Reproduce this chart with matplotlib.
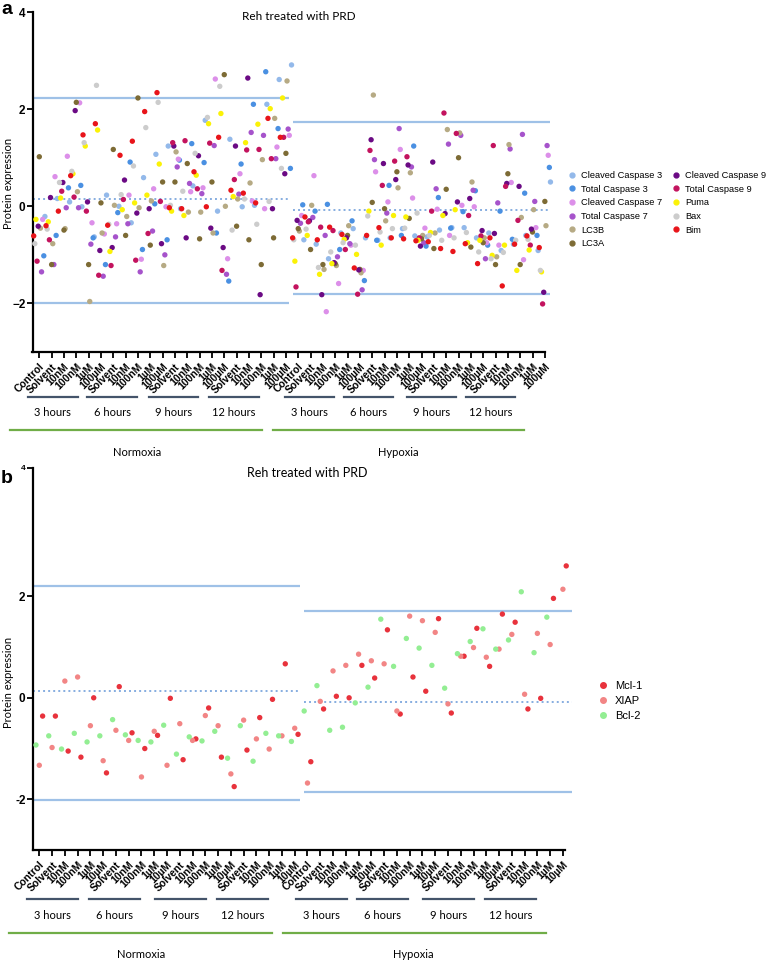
import matplotlib.pyplot as plt
import matplotlib.transforms as mtrans
from matplotlib.lines import Line2D
import numpy as np

plt.rcParams['font.family'] = ['Liberation Sans', 'DejaVu Sans']
CAL = ['Lato', 'DejaVu Sans']

# ---------------- data ----------------
times = ['3 hours', '6 hours', '9 hours', '12 hours']
conditions = ['Normoxia', 'Hypoxia']
doses_a = ['Solvent', '10nM', '100nM', '1µM', '100µM']
doses_b = ['Solvent', '10nM', '100nM', '1µM', '10µM']
labels_a = (['Control'] + doses_a * 4) * 2
labels_b = (['Control'] + doses_b * 4) * 2

proteins_a = ['Cleaved Caspase 3', 'Total Caspase 3', 'Cleaved Caspase 7',
              'Total Caspase 7', 'LC3B', 'LC3A', 'Cleaved Caspase 9',
              'Total Caspase 9', 'Puma', 'Bax', 'Bim']
colors_a = ['#93b9ea', '#4a90e2', '#dc8fe9', '#a653cb', '#b6aa84', '#7d6b35',
            '#6b0a84', '#c3135e', '#fbf206', '#cccccc', '#e8141a']

# first 21 values: normoxia, last 21: hypoxia
cc3 = [-0.21, 0.16, 0.09, -0.01, -0.63, 0.23, 0.0, -0.34, 0.59, 1.07, 1.24,
       -0.05, 0.42, 1.77, -0.1, 1.38, -0.01, 0.02, 2.1, 2.61, 2.91,
       -0.69, -0.78, -1.08, -0.55, -0.46, -0.65, -0.7, -0.65, -0.46, -0.61,
       -0.63, -0.49, -0.44, -0.44, -0.65, -0.55, -0.91, -0.78, -0.6, -0.91, 0.5]
tc3 = [-1.02, -0.6, 0.38, 0.43, -0.65, -1.2, -0.13, 0.91, -0.89, 0.05, -0.69,
       0.95, 1.29, 0.9, -0.55, -1.54, 0.87, 2.1, 2.77, 1.6, 0.78,
       0.03, -0.1, 0.04, -0.89, -0.3, -1.53, -0.7, 0.43, -0.6, 1.24,
       -0.82, 0.18, -0.45, -0.11, 0.32, -0.8, -0.1, -0.68, 0.27, -0.6, 0.8]
cl7 = [-0.27, 0.61, 1.03, 2.13, -0.34, -0.57, -0.36, 0.23, -1.09, 0.36, -0.01,
       0.97, 0.3, 0.38, 2.62, -1.08, 0.67, 0.11, -0.05, 1.22, 1.46,
       -0.19, 0.63, -2.17, -1.59, -0.8, -1.32, 0.71, 0.09, 1.17, 0.17,
       -0.45, -0.06, -0.6, 0.02, -0.01, -0.75, -0.8, 0.49, -1.1, -0.44, 1.05]
tc7 = [-1.35, -1.2, -0.03, -0.03, -0.78, -1.44, -0.63, -0.36, -1.35, -0.51, -1.0,
       0.81, 0.47, 0.26, 1.25, -1.40, 0.25, 1.52, 1.46, 0.98, 1.59,
       -0.35, -0.23, -0.6, -1.04, -0.77, -1.72, 0.96, -0.14, 1.6, 0.81,
       -0.75, 0.36, 1.28, 1.46, 0.33, -1.08, 0.07, 1.18, 1.48, 0.1, 1.25]
lc3b = [-0.45, -0.77, -0.46, 0.3, -1.96, -0.55, 0.02, -0.21, -0.03, 0.11, -1.22,
        1.12, -0.12, -0.12, -0.55, 0.0, 0.15, 0.48, 0.96, 1.81, 2.58,
        -0.51, 0.02, -1.3, -1.22, -0.4, -1.37, 2.29, -0.3, 0.38, 0.69,
        -0.6, -0.55, 1.58, 1.51, 0.5, -0.65, -1.04, 1.27, -0.23, -0.07, -0.4]
lc3a = [1.02, -1.2, -0.49, 2.14, -1.2, 0.07, 1.17, -0.6, 2.23, -0.8, 0.5,
        0.5, 0.88, -0.67, 0.5, 2.71, -0.41, -0.69, -1.2, -0.65, 1.09,
        -0.46, -0.89, -1.2, -1.18, -0.6, -1.3, 0.08, -0.05, 0.71, -0.25,
        -0.67, -0.87, 0.35, 1.0, -0.84, -0.75, -1.2, 0.67, -1.2, -0.53, 0.10]
cc9 = [-0.41, 0.18, 0.49, 1.97, 0.09, -0.91, -0.85, 0.54, -0.14, -0.05, -0.77,
       1.24, -0.65, 1.04, -0.45, -0.85, 1.24, 2.64, -1.82, -0.05, 0.67,
       -0.29, -0.3, -1.82, -1.16, -0.65, -1.31, 1.37, 0.88, 0.55, 0.85,
       -0.82, 0.91, -0.15, 0.09, 0.16, -0.5, -0.56, 0.47, 0.41, -0.47, -1.77]
tc9 = [-1.13, -0.69, 0.31, 0.19, -0.1, -1.42, -1.22, 0.14, -1.11, -0.56, 0.1,
       1.31, 1.35, 0.36, 1.3, -1.32, 0.55, 1.16, 1.17, 0.98, 1.42,
       -1.66, -0.32, -0.43, -0.5, -0.89, -1.81, 1.15, 0.43, 0.93, 1.02,
       -0.65, -0.1, 1.92, 1.5, -0.19, -0.61, 1.25, 0.41, -0.29, -0.8, -2.01]
puma = [-0.27, -0.32, 0.17, 0.67, 1.24, 1.57, -0.93, -0.07, 0.07, 0.23, 0.87,
        -0.1, -0.19, 0.64, 1.7, 1.91, 0.2, 1.31, 1.69, 2.01, 2.23,
        -1.13, -0.6, -1.4, -1.18, -0.68, -0.99, -0.1, -0.8, -0.19, -0.22,
        -0.7, -0.54, -0.19, -0.07, -0.75, -0.7, -1.01, -0.8, -1.32, -0.9, -1.35]
bax = [-0.77, -0.47, 0.49, 0.72, 1.31, 2.49, -0.37, 0.24, 0.83, 1.62, 2.14,
       0.02, 0.31, 1.09, 1.83, 2.47, -0.49, 0.15, -0.37, 0.1, 0.78,
       -0.69, -0.47, -1.26, -0.94, -0.75, -0.8, -0.2, -0.53, -0.46, -0.45,
       -0.14, -0.6, -0.7, -0.65, -0.54, -0.94, -1.08, -0.95, -0.7, -0.68, -1.32]
bim = [-0.61, -0.4, -0.1, 0.63, 1.47, 1.70, -0.39, 1.05, 1.34, 1.95, 2.34,
       -0.03, -0.05, 0.71, -0.01, 1.42, 0.33, 0.27, 0.07, 1.81, 1.42,
       -0.65, -0.22, -0.69, -0.43, -0.58, -1.27, -0.6, -0.44, -0.65, -0.67,
       -0.71, -0.73, -0.87, -0.93, -0.77, -1.18, -0.65, -1.64, -0.78, -0.61, -0.85]
values_a = [cc3, tc3, cl7, tc7, lc3b, lc3a, cc9, tc9, puma, bax, bim]

proteins_b = ['Mcl-1', 'XIAP', 'Bcl-2']
colors_b = ['#e8323c', '#f28585', '#93ee93']
mcl1 = [-0.36, -0.36, -1.05, -1.17, 0.0, -1.48, 0.22, -0.69, -1.0, -0.74, -0.01,
        -1.22, -0.81, -0.20, -1.17, -1.75, -1.03, -0.39, -0.03, 0.67, -0.72,
        -1.26, -0.22, 0.03, 0.0, 0.64, 0.39, 1.34, -0.32, 0.41, 0.13, 1.56,
        -0.30, 0.82, 1.37, 0.62, 1.65, 1.49, -0.22, -0.01, 1.96, 2.60]
xiap = [-1.33, -0.98, 0.33, 0.41, -0.55, -1.24, -0.64, -0.84, -1.56, -0.66, -1.33,
        -0.51, -0.84, -0.35, -0.55, -1.50, -0.44, -0.81, -1.01, -0.75, -0.60,
        -1.68, -0.07, 0.53, 0.64, 0.86, 0.73, 0.67, -0.26, 1.61, 1.52, 1.29,
        -0.12, 0.82, 0.99, 0.80, 0.96, 1.25, 0.07, 1.27, 1.05, 2.14]
bcl2 = [-0.93, -0.75, -1.01, -0.70, -0.87, -0.75, -0.43, -0.73, -0.84, -0.87, -0.54,
        -1.11, -0.77, -0.85, -0.66, -1.19, -0.55, -1.25, -0.70, -0.75, -0.86,
        -0.26, 0.24, -0.64, -0.58, -0.10, 0.21, 1.55, 0.62, 1.17, 0.98, 0.64,
        0.19, 0.87, 1.11, 1.36, 0.96, 1.14, 2.09, 0.89, 1.59, np.nan]
values_b = [mcl1, xiap, bcl2]

# mean and +/- 2SD reference lines (upper, mean, lower)
ref_a = {'Normoxia': [2.23, 0.15, -2.0], 'Hypoxia': [1.74, -0.07, -1.81]}
ref_b = {'Normoxia': [2.21, 0.13, -2.02], 'Hypoxia': [1.71, -0.09, -1.85]}

# ---------------- figure ----------------
fig = plt.figure(figsize=(7.78, 9.61), dpi=100)
W, H = 778, 961


def px_axes(x0, x1, ytop, ybot):
    return fig.add_axes([x0 / W, 1 - ybot / H, (x1 - x0) / W, (ybot - ytop) / H])


def panel(ax, labels, values, colors, spread, ref, xr, lims, tick_end):
    n = len(values)
    x = np.arange(len(labels))
    for k, (vals, col) in enumerate(zip(values, colors)):
        off = ((n - 1) / 2 - k) * spread
        ax.scatter(x + off, vals, s=15, color=col, edgecolors='none', zorder=3,
                   clip_on=False)
    for cond, (x0, x1) in xr.items():
        up, mid, lo = ref[cond]
        ax.hlines([up, lo], x0, x1, color='#9fc1e7', lw=1.6, zorder=2,
                  clip_on=False)
        ax.hlines(mid, x0, x1, color='#86ade0', lw=1.4,
                  linestyles=(0, (1, 1.6)), zorder=2, clip_on=False)
    ax.set_xlim(*lims[0])
    ax.set_ylim(*lims[1])
    for s in ['top', 'right']:
        ax.spines[s].set_visible(False)
    for s in ['left', 'bottom']:
        ax.spines[s].set_linewidth(1.6)
    ax.spines['bottom'].set_bounds(lims[0][0], tick_end)
    ax.set_xticks(x)
    ax.set_xticklabels(labels, rotation=45, ha='right', va='top',
                       rotation_mode='anchor', fontsize=7.5, fontweight='bold')
    ax.tick_params(axis='x', length=4, width=1.3, pad=3)
    ax.tick_params(axis='y', length=4, width=1.3, pad=1, labelsize=8.5)


def groups(ax, y_line, y_text, y_green, y_cond, starts, green, cond_x):
    tr = mtrans.blended_transform_factory(ax.transData, fig.transFigure)
    fy = lambda p: 1 - p / H
    for st, lab in zip(starts, times * 2):
        fig.add_artist(Line2D([st, st + 4.0], [fy(y_line)] * 2, transform=tr,
                              color='#44546a', lw=1.6))
        fig.text(st + 2.0, fy(y_text), lab, transform=tr, ha='center',
                 va='center', family=CAL, fontsize=8)
    for (g0, g1), cx, lab in zip(green, cond_x, conditions):
        fig.add_artist(Line2D([g0, g1], [fy(y_green)] * 2, transform=tr,
                              color='#70ad47', lw=1.6))
        fig.text(cx, fy(y_cond), lab, transform=tr, ha='center', va='center',
                 family=CAL, fontsize=8)


# panel a
axa = px_axes(32.5, 552, 12, 352)
panel(axa, labels_a, values_a, colors_a, 0.091, ref_a,
      {'Normoxia': (-0.55, 20.25), 'Hypoxia': (20.56, 41.4)},
      ((-0.552, 41.58), (-3, 4)), 41)
axa.set_yticks([-2, 0, 2, 4])
for t in axa.get_yticklabels():
    t.set_fontweight('bold')
groups(axa, 396.7, 413, 430, 452,
       [-0.9, 3.9, 8.9, 13.8, 19.9, 24.7, 29.8, 34.6],
       [(-2.38, 18.07), (18.95, 39.3)], [7.93, 29.1])
fig.text(299 / W, 1 - 17 / H, 'Reh treated with PRD', ha='center', va='center',
         family=CAL, fontsize=8.5)
fig.text(9 / W, 1 - 183 / H, 'Protein expression', rotation=90, ha='center',
         va='center', family=CAL, fontsize=8)
fig.text(1 / W, 1 - 9 / H, 'a', ha='left', va='center', fontsize=14,
         fontweight='bold')
ha = [Line2D([], [], marker='o', ls='', color=c, markersize=3.5) for c in colors_a]
axa.legend(ha, proteins_a, ncol=2, loc='upper left', frameon=False,
           bbox_to_anchor=(567 / W, 1 - 171 / H), bbox_transform=fig.transFigure,
           fontsize=6.7, handletextpad=0.5, handlelength=1.0, labelspacing=0.5,
           columnspacing=1.0, borderaxespad=0, borderpad=0)

# panel b
axb = px_axes(32.5, 573, 468, 850)
panel(axb, labels_b, values_b, colors_b, 0.26, ref_b,
      {'Normoxia': (-0.53, 20.4), 'Hypoxia': (20.7, 41.7)},
      ((-0.532, 41.79), (-3, 4.53)), 41.2)
axb.set_yticks([-2, 0, 2, 4.53])
axb.set_yticklabels(['-2', '0', '2', '4'])
for t in axb.get_yticklabels():
    t.set_fontweight('bold')
axb.get_yticklabels()[-1].set_fontsize(6)
groups(axb, 899, 915.7, 933, 954,
       [-0.95, 3.9, 9.05, 13.9, 20.1, 24.9, 30.05, 34.9],
       [(-2.37, 18.2), (19.1, 39.68)], [7.96, 29.3])
fig.text(307 / W, 1 - 473 / H, 'Reh treated with PRD', ha='center', va='center',
         family=CAL, fontsize=9)
fig.text(9 / W, 1 - 682 / H, 'Protein expression', rotation=90, ha='center',
         va='center', family=CAL, fontsize=8)
fig.text(1 / W, 1 - 478 / H, 'b', ha='left', va='center', fontsize=14,
         fontweight='bold')
hb = [Line2D([], [], marker='o', ls='', color=c, markersize=4) for c in colors_b]
axb.legend(hb, proteins_b, loc='upper left', frameon=False,
           bbox_to_anchor=(597 / W, 1 - 681 / H), bbox_transform=fig.transFigure,
           fontsize=8, handletextpad=0.6, handlelength=1.0, labelspacing=0.45,
           borderaxespad=0, borderpad=0)

fig.savefig('out.png', dpi=100)
